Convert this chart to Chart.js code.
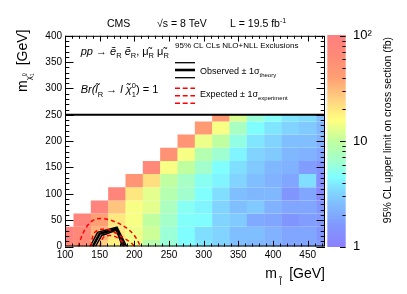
<!DOCTYPE html>
<html>
<head>
<meta charset="utf-8">
<script src="https://cdn.jsdelivr.net/npm/chart.js@4.4.0/dist/chart.umd.min.js"></script>
<style>
  html, body { margin: 0; padding: 0; background: #fff; }
</style>
</head>
<body>
<canvas id="chart" width="407" height="294"></canvas>
<script>
// Сетка масс (GeV)
const mSlepton = [100, 125, 150, 175, 200, 225, 250, 275, 300, 325, 350, 375, 400, 425, 450, 475];
const mLSP = [0, 25, 50, 75, 100, 125, 150, 175, 200, 225, 250];
const binHalf = 12.5;

// Верхний предел на сечение (fb), по столбцам m_slepton, снизу вверх по m_LSP
const lim100 = [80, 90];
const lim125 = [60, 70, 85];
const lim150 = [25, 33, 40, 82];
const lim175 = [18, 20, 20, 28, 78];
const lim200 = [14, 14, 15, 15, 20, 50];
const lim225 = [9, 11, 10, 13, 13, 22, 70];
const lim250 = [6, 6, 6.8, 7.5, 8.5, 10, 15, 55];
const lim275 = [4.6, 4.5, 4.7, 4.9, 6.5, 7, 10, 15, 50];
const lim300 = [3.8, 3.6, 4.5, 4.2, 4.6, 5, 6.5, 8.5, 14, 45];
const lim325 = [3.2, 3.2, 3.2, 3.2, 3.6, 4.2, 4.6, 6.3, 10, 15, 45];
const lim350 = [2.6, 2.6, 2.9, 2.6, 2.6, 3.2, 3.6, 4.2, 5.5, 7.2, 12];
const lim375 = [2.4, 2.6, 2.0, 2.9, 2.4, 2.6, 2.9, 3.2, 3.8, 4.5, 6];
const lim400 = [2.2, 2.2, 1.9, 2.2, 2.4, 2.2, 2.4, 2.9, 3.2, 3.8, 4.8];
const lim425 = [1.9, 1.9, 1.5, 1.9, 1.5, 1.9, 2.2, 2.4, 2.6, 3.2, 3.8];
const lim450 = [1.9, 1.9, 1.7, 1.9, 1.9, 3.6, 1.7, 2.2, 2.6, 2.9, 3.5];
const lim475 = [1.7, 1.5, 1.6, 1.5, 1.2, 1.35, 1.45, 1.9, 2.2, 2.4, 2.6];
const limits = [lim100, lim125, lim150, lim175, lim200, lim225, lim250, lim275,
                lim300, lim325, lim350, lim375, lim400, lim425, lim450, lim475];

// Контуры исключения
const obsX = [140, 150, 174.5, 186];
const obsY = [0, 24, 34, 0];
const obsUpX = [136, 147, 175, 189];
const obsUpY = [0, 27, 37, 0];
const obsDownX = [144, 153, 174, 183];
const obsDownY = [0, 21, 31, 0];
const expUpX = [119, 124, 131, 141, 153, 170, 189, 201, 209];
const expUpY = [0, 19, 37, 50, 53, 48, 35, 19, 0];
const expX = [137, 143, 160, 185, 197, 200];
const expY = [0, 27, 33, 16, 5, 0];
const expDownX = [150, 156, 170, 182, 186];
const expDownY = [0, 18, 20, 10, 0];

// Шкала цвета z (1 .. 100 fb)
const zMin = 1, zMax = 100;
const zTicks = [1, 10, 100];

const FONT = '"Liberation Sans", Arial, Helvetica, sans-serif';

// Палитра: светлая радуга
const stops = [
    [0.00, 140, 128, 255],
    [0.10, 128, 152, 255],
    [0.20, 128, 188, 255],
    [0.28, 128, 224, 255],
    [0.33, 128, 255, 255],
    [0.40, 160, 255, 208],
    [0.50, 192, 255, 160],
    [0.60, 255, 255, 128],
    [0.70, 255, 208, 128],
    [0.80, 255, 160, 116],
    [0.90, 255, 138, 118],
    [1.00, 255, 128, 128]
];

function zColor(v) {
    let t = Math.log10(v / zMin) / Math.log10(zMax / zMin);
    t = Math.max(0, Math.min(1, t));
    for (let i = 1; i < stops.length; i++) {
        if (t <= stops[i][0]) {
            const a = stops[i - 1], b = stops[i];
            const f = (t - a[0]) / (b[0] - a[0]);
            const c = [1, 2, 3].map(k => Math.round(a[k] + (b[k] - a[k]) * f));
            return `rgb(${c[0]},${c[1]},${c[2]})`;
        }
    }
    return 'rgb(255,128,128)';
}

const cells = [];
limits.forEach((col, i) => {
    col.forEach((v, j) => {
        cells.push({ x: mSlepton[i], y: [mLSP[j] - binHalf, mLSP[j] + binHalf], v });
    });
});

const toPts = (xs, ys) => xs.map((x, i) => ({ x, y: ys[i] }));

function lineSet(xs, ys, color, width, dash) {
    return {
        type: 'line',
        data: toPts(xs, ys),
        borderColor: color,
        borderWidth: width,
        borderDash: dash || [],
        pointRadius: 0,
        fill: false,
        tension: dash ? 0.35 : 0,
        order: 0,
        clip: 0,
        xAxisID: 'x',
        yAxisID: 'y'
    };
}

// Текст с индексами
function drawParts(ctx, x, y, parts) {
    let cx = x;
    parts.forEach(p => {
        ctx.font = (p.it ? 'italic ' : '') + (p.s || 11) + 'px ' + FONT;
        ctx.fillText(p.t, cx, y + (p.dy || 0));
        if (!p.stay) cx += ctx.measureText(p.t).width;
    });
    return cx - x;
}

function partsWidth(ctx, parts) {
    let w = 0;
    parts.forEach(p => {
        ctx.font = (p.it ? 'italic ' : '') + (p.s || 11) + 'px ' + FONT;
        if (!p.stay) w += ctx.measureText(p.t).width;
    });
    return w;
}

const decorPlugin = {
    id: 'decor',
    beforeDraw(chart) {
        const ctx = chart.ctx;
        ctx.save();
        ctx.fillStyle = '#fff';
        ctx.fillRect(0, 0, chart.width, chart.height);
        ctx.restore();
    },
    afterDatasetsDraw(chart) {
        const ctx = chart.ctx;
        const xs = chart.scales.x, ys = chart.scales.y, zs = chart.scales.z;
        const a = chart.chartArea;
        ctx.save();
        ctx.fillStyle = '#000';
        ctx.strokeStyle = '#000';
        ctx.textBaseline = 'alphabetic';

        // Легенда (белый блок сверху)
        const boxBottom = ys.getPixelForValue(250);
        ctx.fillStyle = '#fff';
        ctx.fillRect(a.left, a.top, a.right - a.left, boxBottom - a.top);

        // Рамка
        ctx.lineWidth = 1;
        ctx.strokeRect(a.left + 0.5, a.top + 0.5, a.right - a.left - 1, a.bottom - a.top - 1);
        ctx.lineWidth = 2;
        ctx.beginPath();
        ctx.moveTo(a.left, boxBottom);
        ctx.lineTo(a.right, boxBottom);
        ctx.stroke();

        // Деления осей
        ctx.lineWidth = 1;
        ctx.beginPath();
        for (let v = 100; v <= 475; v += 10) {
            const px = Math.round(xs.getPixelForValue(v)) + 0.5;
            const len = v % 50 === 0 ? 5.7 : 3;
            ctx.moveTo(px, a.bottom); ctx.lineTo(px, a.bottom - len);
            ctx.moveTo(px, a.top); ctx.lineTo(px, a.top + len);
        }
        for (let v = 0; v <= 400; v += 10) {
            const py = Math.round(ys.getPixelForValue(v)) + 0.5;
            const len = v % 50 === 0 ? 8.5 : 4.3;
            ctx.moveTo(a.left, py); ctx.lineTo(a.left + len, py);
            ctx.moveTo(a.right, py); ctx.lineTo(a.right - len, py);
        }
        ctx.stroke();

        // Цветовая шкала
        const cbL = zs.left + 2.3, cbR = zs.left + 20.7;
        for (let py = Math.floor(zs.top); py < zs.bottom; py++) {
            ctx.fillStyle = zColor(zs.getValueForPixel(py + 0.5));
            ctx.fillRect(cbL, py, cbR - cbL, 1);
        }
        ctx.strokeStyle = '#000';
        ctx.beginPath();
        [1, 10].forEach(dec => {
            for (let k = 1; k <= 9; k++) {
                const py = Math.round(zs.getPixelForValue(k * dec)) + 0.5;
                const len = k === 1 ? 5.7 : 3.3;
                ctx.moveTo(cbR, py); ctx.lineTo(cbR - len, py);
            }
        });
        const pTop = Math.round(zs.getPixelForValue(100)) + 0.5;
        ctx.moveTo(cbR, pTop); ctx.lineTo(cbR - 5.7, pTop);
        ctx.stroke();

        ctx.fillStyle = '#000';
        // Заголовок шкалы
        ctx.save();
        ctx.translate(391, 37);
        ctx.rotate(-Math.PI / 2);
        ctx.font = '10.5px ' + FONT;
        ctx.textAlign = 'right';
        ctx.fillText('95% CL upper limit on cross section (fb)', 0, 0);
        ctx.restore();

        // Надписи сверху
        ctx.font = '10.5px ' + FONT;
        ctx.fillText('CMS', 107, 26.5);
        ctx.fillText('\u221As = 8 TeV', 157, 26.5);
        drawParts(ctx, 230, 26.5, [{ t: 'L = 19.5 fb', s: 10.5 }, { t: '-1', s: 7, dy: -4 }]);

        // Заголовок оси Y
        const yTitle = [
            { t: 'm', s: 14 },
            { t: '\u03C7\u0303', s: 8, dy: 4 },
            { t: '0', s: 5.5, dy: -1, stay: true },
            { t: '1', s: 5.5, dy: 7 },
            { t: '  [GeV]', s: 14 }
        ];
        ctx.save();
        ctx.translate(26.5, 29.5);
        ctx.rotate(-Math.PI / 2);
        drawParts(ctx, -partsWidth(ctx, yTitle), 0, yTitle);
        ctx.restore();

        // Заголовок оси X
        const xTitle = [
            { t: 'm', s: 14 },
            { t: ' l\u0303', s: 9, dy: 7 },
            { t: '  [GeV]', s: 14 }
        ];
        drawParts(ctx, 325 - partsWidth(ctx, xTitle), 278, xTitle);

        // Содержимое легенды
        const sub = t => ({ t, s: 7.5, dy: 3.5 });
        drawParts(ctx, 80.7, 54.5, [
            { t: 'pp', it: true }, { t: ' \u2192 ' }, { t: '\u1EBD', it: true }, sub('R'),
            { t: ' \u1EBD', it: true }, sub('R'), { t: ', \u03BC\u0303' }, sub('R'),
            { t: ' \u03BC\u0303' }, sub('R')
        ]);
        drawParts(ctx, 80.7, 93, [
            { t: 'Br(', it: true }, { t: 'l\u0303', it: true }, sub('R'), { t: ' \u2192 ' },
            { t: 'l', it: true }, { t: ' \u03C7\u0303', it: true },
            { t: '0', s: 7.5, dy: -5, stay: true }, { t: '1', s: 7.5, dy: 3.5 }, { t: ') = 1' }
        ]);
        ctx.font = '8px ' + FONT;
        ctx.fillText('95% CL CLs NLO+NLL Exclusions', 175, 48.3);
        drawParts(ctx, 200, 74, [{ t: 'Observed \u00B1 1\u03C3', s: 9 }, { t: 'theory', s: 6, dy: 3 }]);
        drawParts(ctx, 200, 97, [{ t: 'Expected \u00B1 1\u03C3', s: 9 }, { t: 'experiment', s: 6, dy: 3 }]);

        // Образцы линий
        ctx.strokeStyle = '#000';
        [[62.7, 1.3], [70, 2.6], [77.7, 1.3]].forEach(([y, w]) => {
            ctx.lineWidth = w;
            ctx.beginPath(); ctx.moveTo(175, y); ctx.lineTo(195, y); ctx.stroke();
        });
        ctx.strokeStyle = '#f00';
        ctx.setLineDash([5, 2.7]);
        [88.3, 95.7, 103.3].forEach(y => {
            ctx.lineWidth = 1.5;
            ctx.beginPath(); ctx.moveTo(175, y); ctx.lineTo(195, y); ctx.stroke();
        });
        ctx.setLineDash([]);
        ctx.restore();
    }
};

const ctx = document.getElementById('chart').getContext('2d');
const tickFont = { family: FONT, size: 10 };

new Chart(ctx, {
    type: 'bar',
    data: {
        datasets: [
            {
                type: 'bar',
                data: cells,
                backgroundColor: c => zColor(c.raw ? c.raw.v : 1),
                borderWidth: 0,
                barPercentage: 1.02,
                categoryPercentage: 1,
                order: 1,
                clip: 0,
                xAxisID: 'x',
                yAxisID: 'y'
            },
            lineSet(expUpX, expUpY, '#f00', 1.5, [4, 3]),
            lineSet(expX, expY, '#f00', 1.5, [4, 3]),
            lineSet(expDownX, expDownY, '#f00', 1.5, [4, 3]),
            lineSet(obsUpX, obsUpY, '#000', 1.5),
            lineSet(obsX, obsY, '#000', 2.5),
            lineSet(obsDownX, obsDownY, '#000', 1.5)
        ]
    },
    options: {
        responsive: false,
        animation: false,
        events: [],
        layout: { padding: { top: 30, left: 0, right: 0, bottom: 0 } },
        plugins: { legend: { display: false }, tooltip: { enabled: false } },
        scales: {
            x: {
                type: 'linear',
                min: 100,
                max: 475,
                offset: false,
                grid: { display: false, drawTicks: false },
                border: { display: false },
                ticks: { stepSize: 50, includeBounds: false, autoSkip: false, maxRotation: 0,
                         padding: 3, color: '#000', font: tickFont },
                afterFit: s => { s.height = 47.5; }
            },
            y: {
                type: 'linear',
                min: 0,
                max: 400,
                grid: { display: false, drawTicks: false },
                border: { display: false },
                ticks: { stepSize: 50, autoSkip: false, padding: 3, color: '#000', font: tickFont },
                afterFit: s => { s.width = 65; }
            },
            z: {
                type: 'logarithmic',
                position: 'right',
                min: zMin,
                max: zMax,
                grid: { display: false, drawTicks: false },
                border: { display: false },
                ticks: {
                    autoSkip: false,
                    padding: 28,
                    color: '#000',
                    font: { family: FONT, size: 13 },
                    callback: v => zTicks.includes(v) ? (v === 100 ? '10\u00B2' : String(v)) : ''
                },
                afterFit: s => { s.width = 82; }
            }
        }
    },
    plugins: [decorPlugin]
});
</script>
</body>
</html>
